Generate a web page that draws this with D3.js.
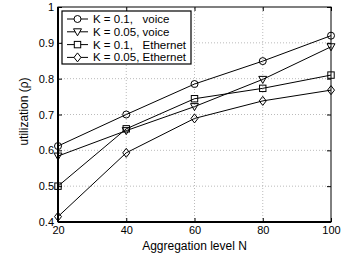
<!DOCTYPE html>
<html>
<head>
<meta charset="utf-8">
<script src="https://cdn.jsdelivr.net/npm/d3@7"></script>
<style>
	body { margin: 0; background: #fff; }
	text { font-family: "Liberation Sans", Arial, sans-serif; fill: #000; }
</style>
</head>
<body>
<div id="chart"></div>
<script>
let N = [20, 40, 60, 80, 100];
let voiceK01 = [0.612, 0.700, 0.785, 0.849, 0.920];
let voiceK005 = [0.584, 0.655, 0.722, 0.798, 0.889];
let ethK01 = [0.500, 0.660, 0.744, 0.773, 0.810];
let ethK005 = [0.415, 0.593, 0.689, 0.738, 0.768];
let seriesNames = ["K = 0.1,   voice", "K = 0.05, voice", "K = 0.1,   Ethernet", "K = 0.05, Ethernet"];
let seriesMarkers = ["circle", "triangle", "square", "diamond"];
let xTicks = [20, 40, 60, 80, 100];
let yTicks = [0.4, 0.5, 0.6, 0.7, 0.8, 0.9, 1];

let WIDTH = 348, HEIGHT = 253;
let margin = { left: 58, right: 17, top: 7, bottom: 31 };

let svg = d3.select("#chart").append("svg").
	attr("width", WIDTH).
	attr("height", HEIGHT);

let x = d3.scaleLinear().domain([20, 100]).range([margin.left, WIDTH - margin.right]);
let y = d3.scaleLinear().domain([0.4, 1]).range([HEIGHT - margin.bottom, margin.top]);

// grid
let grid = svg.append("g").
	attr("stroke", "#aaa").
	attr("stroke-width", 0.8).
	attr("stroke-dasharray", "1,2");
grid.selectAll(".gx").data(xTicks.slice(1, -1)).join("line").
	attr("x1", d => x(d)).attr("x2", d => x(d)).
	attr("y1", y(0.4)).attr("y2", y(1));
grid.selectAll(".gy").data(yTicks.slice(1, -1)).join("line").
	attr("y1", d => y(d)).attr("y2", d => y(d)).
	attr("x1", x(20)).attr("x2", x(100));

// axes (matlab style, ticks inward)
let fmt = d => d === 1 ? "1" : d3.format(".1f")(d);
svg.append("g").
	attr("transform", `translate(0, ${y(0.4)})`).
	call(d3.axisBottom(x).tickValues(xTicks).tickSize(-4).tickPadding(4)).
	call(g => g.select(".domain").remove());
svg.append("g").
	attr("transform", `translate(0, ${y(1)})`).
	call(d3.axisTop(x).tickValues(xTicks).tickSize(-4).tickFormat("")).
	call(g => g.select(".domain").remove());
svg.append("g").
	attr("transform", `translate(${x(20)}, 0)`).
	call(d3.axisLeft(y).tickValues(yTicks).tickSize(-4).tickPadding(4).tickFormat(fmt)).
	call(g => g.select(".domain").remove());
svg.append("g").
	attr("transform", `translate(${x(100)}, 0)`).
	call(d3.axisRight(y).tickValues(yTicks).tickSize(-4).tickFormat("")).
	call(g => g.select(".domain").remove());
svg.selectAll(".tick text").
	attr("font-size", 11).
	attr("font-family", "Liberation Sans, Arial, sans-serif");
svg.selectAll(".tick line").attr("stroke", "#000");

svg.append("rect").
	attr("x", x(20)).attr("y", y(1)).
	attr("width", x(100) - x(20)).attr("height", y(0.4) - y(1)).
	attr("fill", "none").attr("stroke", "#000").attr("stroke-width", 1);
// thicker bottom/left lines like the original
svg.append("line").
	attr("x1", x(20)).attr("x2", x(100)).attr("y1", y(0.4)).attr("y2", y(0.4)).
	attr("stroke", "#000").attr("stroke-width", 2);
svg.append("line").
	attr("x1", x(20)).attr("x2", x(20)).attr("y1", y(1)).attr("y2", y(0.4)).
	attr("stroke", "#000").attr("stroke-width", 2);

// labels
svg.append("text").
	attr("x", (x(20) + x(100)) / 2).
	attr("y", 250).
	attr("text-anchor", "middle").
	attr("font-size", 12).
	text("Aggregation level N");
svg.append("text").
	attr("transform", `translate(28, ${(y(0.4) + y(1)) / 2 - 3}) rotate(-90)`).
	attr("text-anchor", "middle").
	attr("font-size", 12).
	text("utilization (ρ)");

// markers
function marker(sel, type) {
	let r = 3.5;
	if(type === "circle") {
		sel.append("circle").attr("r", r);
	} else if(type === "square") {
		sel.append("rect").attr("x", -3.2).attr("y", -3.2).attr("width", 6.4).attr("height", 6.4);
	} else if(type === "triangle") {
		sel.append("path").attr("d", "M-4,-3L4,-3L0,4Z");
	} else {
		sel.append("path").attr("d", "M0,-4.5L3.5,0L0,4.5L-3.5,0Z");
	}
}

let seriesData = [voiceK01, voiceK005, ethK01, ethK005];
let line = d3.line().x((d, i) => x(N[i])).y(d => y(d));

seriesData.forEach((vals, s) => {
	svg.append("path").
		attr("d", line(vals)).
		attr("fill", "none").
		attr("stroke", "#000").
		attr("stroke-width", 1);
	vals.forEach((v, i) => {
		let g = svg.append("g").
			attr("transform", `translate(${x(N[i])}, ${y(v)})`).
			attr("fill", "none").
			attr("stroke", "#000").
			attr("stroke-width", 1);
		marker(g, seriesMarkers[s]);
	});
});

// legend
let legend = svg.append("g");
legend.append("rect").
	attr("x", 62).attr("y", 11).
	attr("width", 129).attr("height", 53).
	attr("fill", "#fff").attr("stroke", "#000").attr("stroke-width", 1.2);
seriesNames.forEach((name, i) => {
	let ly = 19 + i * 12.8;
	legend.append("line").
		attr("x1", 67).attr("x2", 88).attr("y1", ly).attr("y2", ly).
		attr("stroke", "#000");
	let g = legend.append("g").
		attr("transform", `translate(77.5, ${ly})`).
		attr("fill", "#fff").attr("stroke", "#000");
	marker(g, seriesMarkers[i]);
	legend.append("text").
		attr("x", 93).attr("y", ly + 4).
		attr("font-size", 11.5).
		style("white-space", "pre").
		text(name);
});
</script>
</body>
</html>
